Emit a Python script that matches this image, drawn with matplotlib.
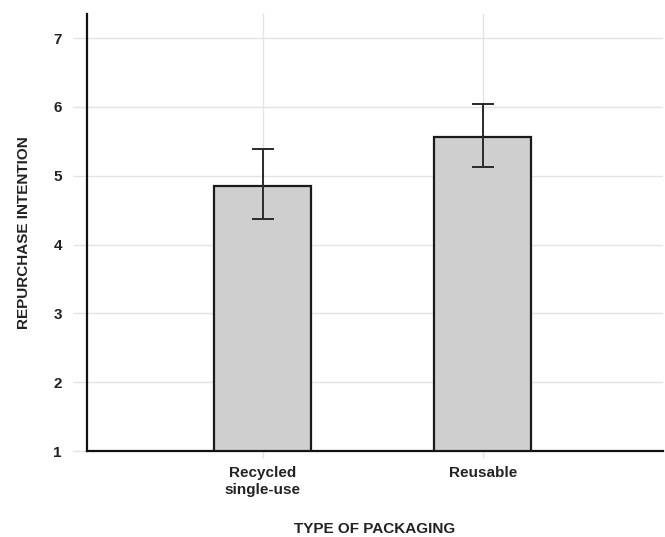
import matplotlib
matplotlib.use("Agg")
import matplotlib.pyplot as plt

categories = ["Recycled\nsingle-use", "Reusable"]
means = [4.85, 5.56]
err_low = [4.37, 5.12]
err_high = [5.385, 6.04]
yticks = [1, 2, 3, 4, 5, 6, 7]

plt.rcParams['font.family'] = ['Liberation Sans', 'DejaVu Sans']

fig = plt.figure(figsize=(6.65, 5.37), dpi=100)
ax = fig.add_axes([0.1308, 0.160, 0.866, 0.814])

x = list(range(len(categories)))
yerr = [[m - lo for m, lo in zip(means, err_low)], [hi - m for m, hi in zip(means, err_high)]]
ax.bar(x, [m - 1 for m in means], bottom=1, width=0.44, color="#cfcfcf",
       edgecolor="#1a1a1a", linewidth=1.6, zorder=3)
ax.errorbar(x, means, yerr=yerr, fmt="none", ecolor="#2a2a2a", elinewidth=1.4,
            capsize=8, capthick=1.4, zorder=4)

ax.set_xlim(-0.8, 1.82)
ax.set_ylim(1, 7.35)
ax.set_yticks(yticks)
ax.set_xticks(x)
ax.set_xticklabels(categories, fontsize=11, fontweight="bold", color="#222222")
ax.set_yticklabels([str(t) for t in yticks], fontsize=11, fontweight="bold", color="#222222")

ax.grid(True, color="#e3e3e3", linewidth=1.0, zorder=0)
ax.set_axisbelow(True)
ax.tick_params(axis="y", length=10, color="#e3e3e3", width=1.0, pad=8)
ax.tick_params(axis="x", length=5, color="#e3e3e3", width=1.0, pad=6)

for s in ["top", "right"]:
    ax.spines[s].set_visible(False)
for s in ["left", "bottom"]:
    ax.spines[s].set_linewidth(1.6)
    ax.spines[s].set_color("#111111")

ax.set_xlabel("TYPE OF PACKAGING", fontsize=11, fontweight="bold", color="#222222", labelpad=18)
ax.set_ylabel("REPURCHASE INTENTION", fontsize=11, fontweight="bold", color="#222222", labelpad=16)

fig.savefig("out.png", dpi=100)
